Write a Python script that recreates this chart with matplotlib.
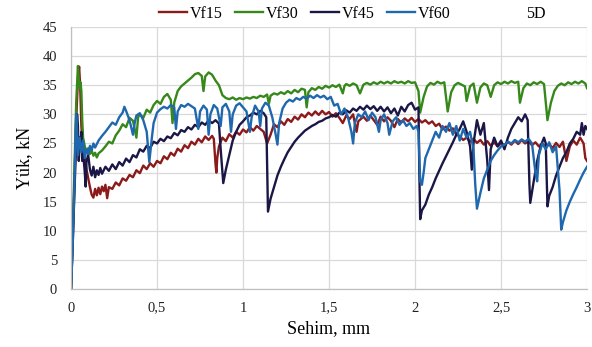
import matplotlib
matplotlib.use("Agg")
import matplotlib.pyplot as plt

plt.rcParams['font.family'] = ['Liberation Serif', 'DejaVu Serif']

# Load-deflection data (deflection in mm, load in kN)
vf15_x = [0.00, 0.01, 0.02, 0.03, 0.04, 0.047, 0.053, 0.06, 0.07, 0.08, 0.09, 0.10, 0.11, 0.12, 0.13,
          0.14, 0.15, 0.16, 0.17, 0.18, 0.19, 0.20, 0.21, 0.22, 0.24, 0.26, 0.28, 0.30, 0.32, 0.34,
          0.36, 0.38, 0.40, 0.42, 0.44, 0.46, 0.48, 0.50, 0.52, 0.54, 0.56, 0.58, 0.60, 0.62, 0.64,
          0.66, 0.68, 0.70, 0.72, 0.74, 0.76, 0.78, 0.80, 0.82, 0.83, 0.84, 0.845, 0.85, 0.86, 0.88,
          0.90, 0.92, 0.94, 0.96, 0.98, 1.00, 1.02, 1.04, 1.06, 1.08, 1.10, 1.12, 1.14, 1.16, 1.18,
          1.20, 1.22, 1.24, 1.26, 1.28, 1.30, 1.32, 1.34, 1.36, 1.38, 1.40, 1.42, 1.44, 1.46, 1.48,
          1.50, 1.52, 1.54, 1.56, 1.58, 1.60, 1.62, 1.64, 1.66, 1.67, 1.70, 1.72, 1.74, 1.76, 1.78,
          1.80, 1.82, 1.84, 1.86, 1.88, 1.90, 1.92, 1.94, 1.96, 1.98, 2.00, 2.02, 2.04, 2.06, 2.08,
          2.10, 2.12, 2.14, 2.16, 2.18, 2.20, 2.22, 2.24, 2.26, 2.28, 2.30, 2.32, 2.34, 2.36, 2.38,
          2.40, 2.42, 2.44, 2.46, 2.48, 2.50, 2.52, 2.54, 2.56, 2.58, 2.60, 2.62, 2.64, 2.66, 2.68,
          2.70, 2.72, 2.74, 2.76, 2.78, 2.80, 2.82, 2.84, 2.86, 2.88, 2.90, 2.92, 2.94, 2.96, 2.98,
          2.99, 3.00]
vf15_y = [0, 9, 19, 29, 36, 38.2, 35, 28, 24, 22.5, 20.5, 19, 17.5, 16.2, 15.7,
          17.2, 16.1, 17.4, 16.3, 17.6, 16.8, 17.9, 15.6, 17.5, 17.2, 18.3, 17.8, 19.0, 18.6, 19.6,
          19.2, 20.4, 19.9, 21.2, 20.6, 21.6, 21.0, 22.0, 21.6, 22.8, 22.3, 23.4, 22.9, 24.1, 23.6,
          24.7, 24.2, 25.3, 24.8, 25.8, 25.2, 26.2, 25.6, 26.3, 25.8, 21.5, 20.0, 22.5, 24.5, 26.0,
          25.4, 26.6, 26.0, 27.0, 26.5, 27.4, 26.9, 27.8, 27.2, 28.0, 27.5, 27.0, 25.0, 26.5, 28.3,
          27.8, 28.8, 28.2, 29.2, 28.7, 29.6, 29.1, 30.0, 29.5, 30.3, 29.8, 30.5, 29.9, 30.6, 30.0,
          30.4, 29.6, 30.2, 29.4, 28.5, 29.8, 29.2, 30.0, 27.0, 28.8, 29.6, 28.9, 29.8, 29.0, 28.2,
          29.6, 28.8, 29.5, 28.9, 27.8, 29.2, 28.6, 29.3, 28.8, 29.4, 28.7, 29.2, 28.6, 29.0, 28.4,
          28.8, 28.0, 28.4, 27.4, 27.9, 27.2, 27.6, 26.6, 26.2, 25.6, 26.0, 25.3, 25.8, 25.1, 25.6,
          24.8, 25.4, 24.6, 25.2, 24.5, 25.1, 24.6, 25.3, 24.8, 25.5, 24.9, 25.6, 25.0, 25.4, 24.7,
          25.2, 24.5, 25.0, 24.3, 24.9, 24.2, 25.1, 24.4, 25.3, 22.0, 24.5, 25.5, 24.8, 26.0, 25.0,
          22.5, 22.0]

vf30_x = [0.00, 0.01, 0.02, 0.03, 0.04, 0.045, 0.05, 0.055, 0.06, 0.065, 0.07, 0.08, 0.09, 0.10, 0.11,
          0.12, 0.13, 0.14, 0.15, 0.16, 0.18, 0.20, 0.22, 0.24, 0.26, 0.28, 0.30, 0.32, 0.34, 0.36,
          0.38, 0.39, 0.40, 0.42, 0.44, 0.46, 0.48, 0.50, 0.52, 0.54, 0.56, 0.58, 0.59, 0.60, 0.62,
          0.64, 0.66, 0.68, 0.70, 0.72, 0.74, 0.76, 0.77, 0.78, 0.80, 0.82, 0.84, 0.86, 0.88, 0.90,
          0.92, 0.94, 0.96, 0.98, 1.00, 1.02, 1.04, 1.06, 1.08, 1.10, 1.12, 1.14, 1.15, 1.16, 1.18,
          1.20, 1.22, 1.24, 1.26, 1.28, 1.30, 1.32, 1.34, 1.36, 1.37, 1.38, 1.40, 1.42, 1.44, 1.46,
          1.48, 1.50, 1.52, 1.54, 1.56, 1.58, 1.59, 1.60, 1.62, 1.64, 1.66, 1.68, 1.70, 1.72, 1.74,
          1.76, 1.78, 1.80, 1.82, 1.84, 1.86, 1.88, 1.90, 1.92, 1.94, 1.96, 1.98, 2.00, 2.02, 2.03,
          2.05, 2.07, 2.09, 2.11, 2.13, 2.15, 2.17, 2.19, 2.21, 2.23, 2.25, 2.27, 2.29, 2.30, 2.32,
          2.34, 2.36, 2.38, 2.40, 2.42, 2.44, 2.46, 2.48, 2.50, 2.52, 2.54, 2.56, 2.58, 2.60, 2.61,
          2.63, 2.65, 2.67, 2.69, 2.71, 2.73, 2.75, 2.77, 2.79, 2.81, 2.83, 2.85, 2.87, 2.89, 2.91,
          2.93, 2.95, 2.97, 2.99, 3.00]
vf30_y = [0, 10, 21, 32, 38.3, 36, 34.5, 35.5, 34, 29, 26, 24.5, 23.5, 24.2, 23.2,
          23.8, 22.9, 23.4, 22.6, 23.3, 23.8, 24.5, 25.3, 25.0, 26.4, 27.2, 28.3, 27.8, 29.4, 28.9,
          26.0, 29.5, 30.0, 29.4, 30.8, 30.3, 31.6, 32.3, 31.8, 33.0, 33.5, 32.5, 28.5, 32.0, 34.0,
          34.8, 35.3, 35.8, 36.3, 36.9, 37.1, 36.6, 34.0, 36.5, 37.2, 36.8, 35.8, 35.0, 33.3, 32.8,
          32.6, 32.9, 32.5, 32.8, 32.6, 32.9, 32.7, 33.0, 32.8, 33.2, 33.0, 33.4, 31.8, 33.2, 33.6,
          33.4, 33.8, 33.5, 34.0, 33.6, 34.2, 33.8, 34.4, 34.2, 31.2, 33.8, 34.5, 34.2, 34.7, 34.4,
          34.9, 34.6, 35.0, 34.7, 35.1, 33.6, 34.9, 35.2, 34.9, 35.3, 35.0, 33.6, 35.1, 35.4, 35.1,
          35.5, 35.2, 35.6, 35.3, 35.6, 35.3, 35.7, 35.4, 35.6, 35.3, 35.7, 35.4, 35.5, 34.0, 30.3,
          33.0, 34.8, 35.4, 35.1, 35.6, 35.3, 35.5, 30.5, 33.8, 35.0, 35.4, 35.1, 34.8, 32.3, 34.8,
          35.3, 32.0, 34.6, 35.3, 35.0, 33.0, 35.0, 35.5, 35.2, 35.6, 35.3, 35.7, 35.4, 35.6, 32.0,
          34.5, 35.3, 35.0, 35.5, 35.2, 35.6, 35.2, 29.0, 32.0, 34.0, 34.9, 35.3, 35.0, 35.5, 35.2,
          35.6, 35.3, 35.7, 35.3, 34.5]

vf45_x = [0.00, 0.01, 0.02, 0.03, 0.035, 0.04, 0.045, 0.05, 0.055, 0.06, 0.065, 0.07, 0.08, 0.085, 0.09,
          0.10, 0.11, 0.12, 0.13, 0.14, 0.15, 0.16, 0.17, 0.18, 0.20, 0.22, 0.24, 0.26, 0.28, 0.30,
          0.32, 0.34, 0.36, 0.38, 0.40, 0.42, 0.44, 0.46, 0.48, 0.50, 0.52, 0.54, 0.56, 0.58, 0.60,
          0.62, 0.64, 0.66, 0.68, 0.70, 0.72, 0.74, 0.76, 0.78, 0.80, 0.82, 0.84, 0.86, 0.87, 0.885,
          0.90, 0.92, 0.94, 0.96, 0.98, 1.00, 1.02, 1.04, 1.06, 1.08, 1.10, 1.12, 1.135, 1.145, 1.16,
          1.18, 1.20, 1.22, 1.24, 1.26, 1.28, 1.30, 1.32, 1.34, 1.36, 1.38, 1.40, 1.42, 1.44, 1.46,
          1.48, 1.50, 1.52, 1.54, 1.56, 1.58, 1.60, 1.62, 1.64, 1.66, 1.68, 1.70, 1.72, 1.74, 1.76,
          1.78, 1.80, 1.82, 1.84, 1.86, 1.88, 1.90, 1.92, 1.94, 1.96, 1.98, 2.00, 2.02, 2.025, 2.03,
          2.04, 2.06, 2.08, 2.10, 2.12, 2.14, 2.16, 2.18, 2.20, 2.22, 2.24, 2.26, 2.28, 2.30, 2.32,
          2.33, 2.34, 2.36, 2.38, 2.40, 2.42, 2.43, 2.44, 2.46, 2.48, 2.50, 2.52, 2.54, 2.56, 2.58,
          2.60, 2.62, 2.64, 2.655, 2.665, 2.67, 2.69, 2.71, 2.73, 2.75, 2.76, 2.77, 2.78, 2.80, 2.82,
          2.84, 2.86, 2.88, 2.90, 2.92, 2.94, 2.96, 2.97, 2.98, 2.99, 3.00]
vf45_y = [0, 8, 17, 25, 30, 28, 22, 26, 24.5, 27, 22, 23.5, 20, 17.6, 22,
          23, 20.5, 19.5, 21, 19.2, 20.4, 19.6, 20.8, 19.8, 21.0, 20.3, 21.4, 20.6, 21.8, 21.2,
          22.4, 21.8, 23.0, 22.6, 24.0, 23.6, 24.6, 24.2, 25.3, 25.0, 25.8, 25.4, 26.2, 25.9, 26.8,
          26.4, 27.3, 27.0, 27.8, 27.4, 28.2, 27.8, 28.6, 28.2, 29.0, 28.5, 29.0, 28.4, 24.0, 18.2,
          20.5, 23.0, 25.5, 27.0, 28.2, 28.8, 29.5, 29.8, 30.3, 30.0, 30.6, 30.2, 29.5, 13.3, 15.5,
          17.5, 19.5, 21.0, 22.3, 23.5, 24.4, 25.3, 26.0, 26.6, 27.2, 27.6, 28.0, 28.3, 28.7, 28.9,
          29.3, 29.5, 29.9, 29.6, 30.3, 30.0, 30.7, 30.3, 31.0, 30.6, 31.3, 30.8, 31.5, 30.9, 31.4,
          30.6, 31.3, 30.5, 31.2, 30.2, 31.0, 29.8, 31.3, 30.5, 31.6, 32.0, 30.8, 31.2, 20.0, 12.0,
          13.5, 14.5, 16.2, 17.5, 19.0, 20.3, 21.6, 22.8, 24.0, 25.2, 26.5, 27.5, 28.8, 27.0, 24.5,
          20.5, 25.0, 29.0, 26.5, 28.5, 22.0, 17.0, 24.0, 26.0, 24.5, 25.5, 24.0, 26.0, 27.5, 28.5,
          29.5, 28.8, 30.0, 29.0, 18.0, 14.8, 18.5, 22.0, 24.5, 26.0, 25.0, 14.2, 16.0, 17.5, 19.5,
          21.0, 22.5, 23.5, 25.0, 25.8, 27.0, 26.5, 28.5, 26.5, 28.0, 27.5]

vf60_x = [0.00, 0.01, 0.02, 0.025, 0.03, 0.035, 0.04, 0.05, 0.06, 0.07, 0.08, 0.09, 0.10, 0.11, 0.12,
          0.13, 0.14, 0.16, 0.18, 0.20, 0.22, 0.24, 0.26, 0.28, 0.30, 0.31, 0.32, 0.34, 0.36, 0.37,
          0.38, 0.40, 0.42, 0.44, 0.455, 0.47, 0.48, 0.50, 0.52, 0.54, 0.56, 0.58, 0.60, 0.61, 0.62,
          0.64, 0.66, 0.68, 0.70, 0.72, 0.74, 0.75, 0.77, 0.79, 0.80, 0.81, 0.83, 0.85, 0.87, 0.88,
          0.90, 0.92, 0.93, 0.94, 0.96, 0.98, 1.00, 1.02, 1.04, 1.05, 1.07, 1.09, 1.10, 1.11, 1.13,
          1.15, 1.17, 1.19, 1.20, 1.21, 1.23, 1.25, 1.27, 1.29, 1.31, 1.33, 1.35, 1.37, 1.39, 1.41,
          1.43, 1.45, 1.47, 1.49, 1.51, 1.53, 1.55, 1.57, 1.59, 1.61, 1.63, 1.64, 1.65, 1.67, 1.69,
          1.71, 1.73, 1.75, 1.77, 1.79, 1.80, 1.82, 1.84, 1.85, 1.87, 1.89, 1.91, 1.93, 1.95, 1.97,
          1.99, 2.01, 2.02, 2.03, 2.04, 2.05, 2.06, 2.08, 2.10, 2.12, 2.14, 2.16, 2.18, 2.20, 2.22,
          2.24, 2.26, 2.28, 2.30, 2.32, 2.34, 2.35, 2.36, 2.38, 2.40, 2.42, 2.44, 2.46, 2.48, 2.50,
          2.52, 2.54, 2.56, 2.58, 2.60, 2.62, 2.64, 2.66, 2.68, 2.70, 2.71, 2.72, 2.74, 2.76, 2.78,
          2.80, 2.82, 2.84, 2.85, 2.86, 2.88, 2.90, 2.92, 2.94, 2.96, 2.98, 3.00]
vf60_y = [0, 8, 18, 25, 30, 27, 23, 26, 23.5, 25.5, 22.5, 24, 23.2, 24.6, 23.8,
          25.0, 24.3, 25.5, 26.3, 27.0, 27.8, 28.6, 28.2, 29.5, 30.3, 31.3, 30.6, 29.0, 26.5, 28.5,
          29.8, 30.2, 29.0, 27.0, 21.8, 26.0, 28.5, 30.3, 30.9, 31.3, 31.0, 31.6, 31.2, 27.5, 30.5,
          31.6, 31.3, 31.8, 31.4, 31.0, 27.5, 30.5, 31.5, 30.8, 26.5, 30.0, 31.6, 31.0, 28.0, 31.2,
          31.8, 30.5, 27.0, 30.0, 31.5, 31.9, 31.2, 30.5, 27.0, 29.5, 31.5, 30.5, 28.0, 31.0, 32.0,
          31.5, 29.5, 26.5, 24.8, 28.5, 31.0, 32.0, 32.5, 32.2, 32.8, 32.5, 33.0, 32.7, 33.2, 32.8,
          33.3, 32.9, 33.2, 32.6, 33.0, 31.5, 31.8, 30.0, 31.0, 29.5, 27.0, 25.0, 28.5, 30.0, 29.5,
          30.5, 29.0, 30.3, 29.5, 27.0, 29.0, 30.0, 28.5, 26.5, 28.8, 29.5, 28.2, 29.0, 28.0, 28.5,
          27.5, 28.0, 27.0, 18.5, 17.9, 20.0, 22.5, 24.0, 25.5, 27.0, 26.0, 28.0, 27.0, 28.5, 26.5,
          28.0, 25.5, 27.5, 26.0, 27.0, 24.0, 18.0, 13.8, 16.5, 19.0, 20.5, 22.0, 23.0, 23.8, 24.5,
          24.8, 25.3, 25.0, 25.6, 25.2, 25.7, 25.3, 25.8, 25.0, 20.0, 18.5, 23.0, 25.0, 24.0, 25.2,
          23.5, 24.5, 17.0, 10.2, 11.5, 13.5, 15.0, 16.3, 17.5, 18.8, 20.0, 21.0]

series_names = ["Vf15", "Vf30", "Vf45", "Vf60"]
series_colors = ["#8B1A1A", "#36881A", "#1A1747", "#1F68AE"]
x_ticks = [0, 0.5, 1, 1.5, 2, 2.5, 3]
x_tick_labels = ["0", "0,5", "1", "1,5", "2", "2,5", "3"]
y_ticks = [0, 5, 10, 15, 20, 25, 30, 35, 40, 45]

fig = plt.figure(figsize=(5.92, 3.47), dpi=100)
ax = fig.add_axes([0.12, 0.167, 0.8716, 0.7552])

data = [(vf15_x, vf15_y), (vf30_x, vf30_y), (vf45_x, vf45_y), (vf60_x, vf60_y)]
handles = []
for (xs, ys), name, color in zip(data, series_names, series_colors):
    h, = ax.plot(xs, ys, color=color, lw=1.7, label=name, solid_joinstyle='round')
    handles.append(h)

ax.set_xlim(0, 3)
ax.set_ylim(0, 45)
ax.set_xticks(x_ticks)
ax.set_xticklabels(x_tick_labels)
ax.set_yticks(y_ticks)
ax.tick_params(length=0, labelsize=10.5, colors="#222222")
ax.tick_params(axis="x", pad=9)
ax.tick_params(axis="y", pad=10)
ax.grid(True, color="#D9D9D9", lw=0.9)
ax.set_axisbelow(True)
for side in ["top", "right"]:
    ax.spines[side].set_visible(False)
for side in ["left", "bottom"]:
    ax.spines[side].set_color("#BFBFBF")
    ax.spines[side].set_linewidth(0.9)

ax.set_xlabel("Sehim, mm", fontsize=13, labelpad=4)
ax.set_ylabel("Yük, kN", fontsize=13, labelpad=7)

fig.legend(handles=handles, labels=series_names, loc="center", ncol=4,
           bbox_to_anchor=(0.515, 0.96), frameon=False, fontsize=11.5,
           handlelength=1.75, handletextpad=0.15, columnspacing=0.8)
fig.text(0.905, 0.96, "5D", fontsize=11.5, ha="center", va="center")

fig.savefig("out.png", dpi=100)
